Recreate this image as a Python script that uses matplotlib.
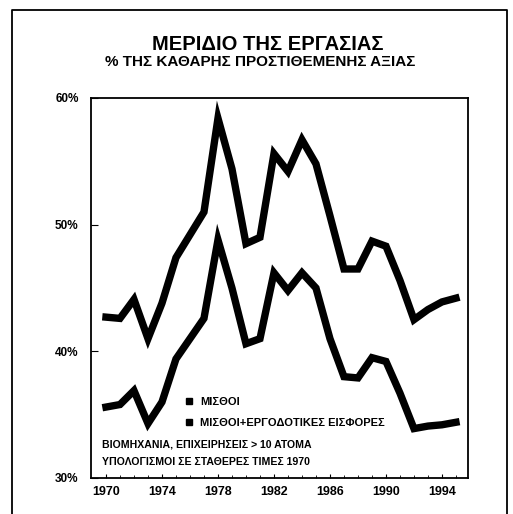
import matplotlib.pyplot as plt
from matplotlib.lines import Line2D

plt.rcParams['font.family'] = ['Liberation Sans', 'DejaVu Sans']

years = list(range(1970, 1996))
# ΜΙΣΘΟΙ (% of value added)
misthoi = [35.6, 35.8, 36.9, 34.3, 36.0, 39.4, 41.0, 42.6, 48.8, 45.0,
           40.6, 41.0, 46.2, 44.8, 46.2, 45.0, 41.0, 38.0, 37.9, 39.5,
           39.2, 36.7, 33.9, 34.1, 34.2, 34.4]
# ΜΙΣΘΟΙ + ΕΡΓΟΔΟΤΙΚΕΣ ΕΙΣΦΟΡΕΣ
misthoi_eisfores = [42.7, 42.6, 44.1, 41.0, 43.8, 47.4, 49.2, 51.0, 58.4, 54.4,
                    48.5, 49.0, 55.6, 54.2, 56.7, 54.8, 50.7, 46.5, 46.5, 48.7,
                    48.3, 45.6, 42.5, 43.3, 43.9, 44.2]
labels = ['ΜΙΣΘΟΙ', 'ΜΙΣΘΟΙ+ΕΡΓΟΔΟΤΙΚΕΣ ΕΙΣΦΟΡΕΣ']
year_ticks = [1970, 1974, 1978, 1982, 1986, 1990, 1994]
pct_ticks = [30, 40, 50, 60]
notes = ['ΒΙΟΜΗΧΑΝΙΑ, ΕΠΙΧΕΙΡΗΣΕΙΣ > 10 ΑΤΟΜΑ',
         'ΥΠΟΛΟΓΙΣΜΟΙ ΣΕ ΣΤΑΘΕΡΕΣ ΤΙΜΕΣ 1970']

W, H = 513, 514
fig = plt.figure(figsize=(W / 100, H / 100), dpi=100)
ax = fig.add_axes([91 / W, 1 - 478 / H, 377 / W, 380 / H])

ax.plot(years, misthoi, color='black', lw=5.3, solid_joinstyle='miter')
ax.plot(years, misthoi_eisfores, color='black', lw=5.3, solid_joinstyle='miter')

ax.set_xlim(1968.93, 1995.86)
ax.set_ylim(30, 60)
ax.set_xticks(year_ticks)
ax.set_xticklabels([str(y) for y in year_ticks], fontsize=9, fontweight='bold')
ax.set_xticks(years, minor=True)
ax.set_yticks(pct_ticks)
ax.set_yticklabels(['%d%%' % p for p in pct_ticks], fontsize=8.5, fontweight='bold')
ax.tick_params(axis='x', which='major', direction='in', length=3, pad=6)
ax.tick_params(axis='x', which='minor', direction='in', length=2)
ax.tick_params(axis='y', direction='in', length=5, pad=9)
for s in ax.spines.values():
    s.set_linewidth(1.3)

handles = [Line2D([], [], marker='s', ls='none', color='black', markersize=4.5)
           for _ in labels]
leg = ax.legend(handles, labels, loc='upper left', bbox_to_anchor=(0.236, 0.228),
                frameon=False, borderpad=0, handlelength=0.6, handletextpad=0.7,
                labelspacing=1.0, prop={'size': 8, 'weight': 'bold'})

ax.text(0.029, 0.087, notes[0], transform=ax.transAxes, fontsize=7.6,
        fontweight='bold', va='center', ha='left')
ax.text(0.029, 0.042, notes[1], transform=ax.transAxes, fontsize=7.6,
        fontweight='bold', va='center', ha='left')

fig.text(268 / W, 1 - 45 / H, 'ΜΕΡΙΔΙΟ ΤΗΣ ΕΡΓΑΣΙΑΣ', fontsize=14.5,
         fontweight='bold', ha='center', va='center')
fig.text(260 / W, 1 - 62 / H, '% ΤΗΣ ΚΑΘΑΡΗΣ ΠΡΟΣΤΙΘΕΜΕΝΗΣ ΑΞΙΑΣ', fontsize=11,
         fontweight='bold', ha='center', va='center')

# outer frame of the scanned figure
x0, x1, yt = 12 / W, 507 / W, 1 - 10 / H
fig.add_artist(Line2D([x0, x0, x1, x1], [0, yt, yt, 0],
                      transform=fig.transFigure, color='black', lw=1.3))

fig.savefig('out.png', dpi=100)
